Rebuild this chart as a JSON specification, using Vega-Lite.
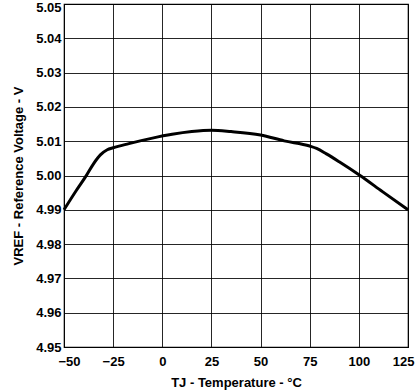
{
  "$schema": "https://vega.github.io/schema/vega-lite/v6.json",
  "width": 344,
  "height": 343,
  "autosize": {"type": "none"},
  "padding": {"left": 64, "top": 4, "right": 9, "bottom": 45},
  "background": "white",
  "config": {
    "view": {"stroke": "black", "strokeWidth": 1.2},
    "font": "Liberation Sans",
    "axis": {
      "labelFont": "Liberation Sans",
      "labelFontWeight": "bold",
      "labelFontSize": 13,
      "labelColor": "black",
      "titleFont": "Liberation Sans",
      "titleFontWeight": "bold",
      "titleFontSize": 13,
      "titleColor": "black",
      "gridColor": "black",
      "gridOpacity": 0.85,
      "gridWidth": 1,
      "domain": false,
      "ticks": false
    }
  },
  "data": {
    "values": [
      {"t": -50, "v": 4.9900},
      {"t": -44, "v": 4.9954},
      {"t": -38.5, "v": 5.0001},
      {"t": -35, "v": 5.0034},
      {"t": -31.5, "v": 5.0060},
      {"t": -28, "v": 5.0075},
      {"t": -25, "v": 5.0081},
      {"t": -17, "v": 5.0093},
      {"t": -5, "v": 5.0109},
      {"t": 5, "v": 5.0120},
      {"t": 15, "v": 5.0128},
      {"t": 25, "v": 5.0132},
      {"t": 35, "v": 5.0128},
      {"t": 50, "v": 5.0118},
      {"t": 62, "v": 5.0101},
      {"t": 75, "v": 5.0086},
      {"t": 78.5, "v": 5.0079},
      {"t": 83.5, "v": 5.0063},
      {"t": 90, "v": 5.0040},
      {"t": 100.6, "v": 5.0000},
      {"t": 112, "v": 4.9953},
      {"t": 125, "v": 4.9900}
    ]
  },
  "mark": {"type": "line", "color": "black", "strokeWidth": 3, "interpolate": "monotone"},
  "encoding": {
    "x": {
      "field": "t",
      "type": "quantitative",
      "scale": {"domain": [-50, 125], "nice": false, "zero": false},
      "axis": {"values": [-50, -25, 0, 25, 50, 75, 100, 125], "labelPadding": 8, "title": "TJ - Temperature - °C", "titlePadding": 8, "labelFlush": true, "labelFlushOffset": 6}
    },
    "y": {
      "field": "v",
      "type": "quantitative",
      "scale": {"domain": [4.95, 5.05], "nice": false, "zero": false},
      "axis": {"values": [4.95, 4.96, 4.97, 4.98, 4.99, 5.0, 5.01, 5.02, 5.03, 5.04, 5.05], "format": ".2f", "labelPadding": 3, "title": "VREF - Reference Voltage - V", "titlePadding": 10, "labelFlush": false, "labelOffset": {"condition": {"test": "datum.value >= 5.049", "value": 3}, "value": 0}}
    }
  }
}
